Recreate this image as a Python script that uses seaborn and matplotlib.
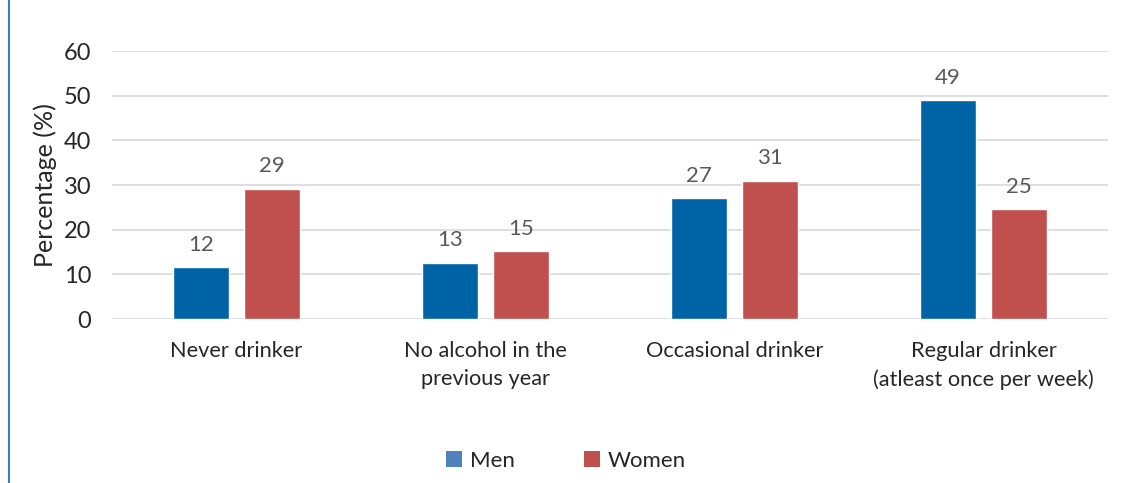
import matplotlib
matplotlib.use("Agg")
import matplotlib.pyplot as plt
import seaborn as sns
import pandas as pd
from matplotlib.patches import Patch
from matplotlib.lines import Line2D

categories = ["Never drinker", "No alcohol in the\nprevious year", "Occasional drinker",
              "Regular drinker\n(atleast once per week)"]
men = [11.6, 12.6, 27.0, 49.0]
women = [29.2, 15.2, 30.9, 24.6]
series = ["Men", "Women"]
yticks = [0, 10, 20, 30, 40, 50, 60]

bar_colors = {"Men": "#0063A6", "Women": "#C0504D"}
legend_colors = {"Men": "#4F81BD", "Women": "#C0504D"}

df = pd.DataFrame({
    "category": categories * 2,
    "value": men + women,
    "series": ["Men"] * len(categories) + ["Women"] * len(categories),
})

sns.set_theme(style="white")
plt.rcParams["font.family"] = ["Lato", "DejaVu Sans"]

fig = plt.figure(figsize=(11.3, 4.83), dpi=100)
ax = fig.add_axes([112 / 1130, 1 - 319 / 483, (1108 - 112) / 1130, (319 - 51) / 483])

sns.barplot(data=df, x="category", y="value", hue="series", order=categories,
            hue_order=series, palette=bar_colors, width=0.57, gap=0.21,
            saturation=1, ax=ax, legend=False, errorbar=None)

for cont in ax.containers:
    ax.bar_label(cont, fmt="%.0f", padding=9, color="#595959", fontsize=16)

ax.set_ylim(0, 60)
ax.set_xlim(-0.5, 3.5)
ax.set_yticks(yticks)
ax.yaxis.grid(True, color="#D9D9D9", linewidth=1.2)
ax.set_axisbelow(True)
for s in ax.spines.values():
    s.set_visible(False)
ax.tick_params(axis="y", length=0, pad=15, labelsize=17, labelcolor="#262626")
ax.tick_params(axis="x", length=0, pad=16, labelsize=15.7, labelcolor="#262626")
for lbl in ax.get_xticklabels():
    lbl.set_linespacing(1.5)
ax.set_xlabel("")
ax.set_ylabel("Percentage (%)", fontsize=18, color="#262626", labelpad=5)

handles = [Patch(facecolor=legend_colors[s], edgecolor="none", label=s) for s in series]
fig.legend(handles=handles, loc="center", bbox_to_anchor=(566 / 1130, 1 - 461 / 483),
           ncol=2, frameon=False, fontsize=16, handlelength=0.7, handleheight=0.7,
           handletextpad=0.35, columnspacing=3.15, labelcolor="#262626")

fig.add_artist(Line2D([8.5 / 1130, 8.5 / 1130], [0, 1], color="#3C7DC4", linewidth=1.5,
                      transform=fig.transFigure))

fig.savefig("out.png", dpi=100, facecolor="white")
